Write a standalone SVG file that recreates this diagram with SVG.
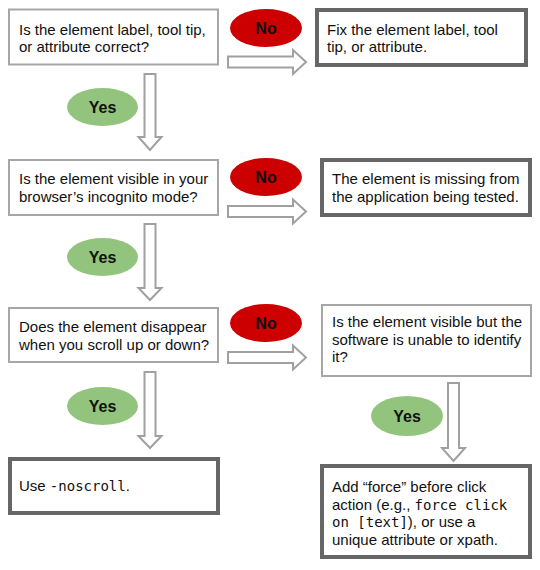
<svg xmlns="http://www.w3.org/2000/svg" width="540" height="570" viewBox="0 0 540 570">
<style>
.q{fill:#fff;stroke:#a6a6a6;stroke-width:2}
.a{fill:#fff;stroke:#666;stroke-width:4}
.t{font-family:"Liberation Sans",Arial,sans-serif;font-size:15px;fill:#111}
.m{font-family:"DejaVu Sans Mono",monospace;font-size:14px}
.arr{fill:#fff;stroke:#a0a0a0;stroke-width:2;stroke-linejoin:miter}
.no{fill:#cc0000}
.yes{fill:#93c47d}
.lb{font-family:"Liberation Sans",Arial,sans-serif;font-size:16px;font-weight:bold;fill:#111;text-anchor:middle}
</style>
<rect width="540" height="570" fill="#fff"/>
<g id="connectors">
<polygon class="arr" points="228,56.5 293,56.5 293,50 306,62 293,74 293,67.5 228,67.5"/>
<polygon class="arr" points="228,206 293,206 293,199.5 306,211.5 293,223.5 293,217 228,217"/>
<polygon class="arr" points="228,352 293,352 293,345.5 306,357.5 293,369.5 293,363 228,363"/>
<polygon class="arr" points="144.5,74 155.5,74 155.5,137 161.5,137 150,150 138.5,137 144.5,137"/>
<polygon class="arr" points="144.5,224 155.5,224 155.5,288 161.5,288 150,300 138.5,288 144.5,288"/>
<polygon class="arr" points="144.5,372 155.5,372 155.5,436 161.5,436 150,448 138.5,436 144.5,436"/>
<polygon class="arr" points="448,383 459,383 459,448 465,448 453.5,461 442,448 448,448"/>
</g>
<g id="label-no-1"><ellipse class="no" cx="266" cy="28" rx="36" ry="19"/><text class="lb" x="266" y="33.5">No</text></g>
<g id="label-no-2"><ellipse class="no" cx="266" cy="177" rx="36" ry="19"/><text class="lb" x="266" y="182.5">No</text></g>
<g id="label-no-3"><ellipse class="no" cx="266" cy="323" rx="36" ry="19"/><text class="lb" x="266" y="328.5">No</text></g>
<g id="label-yes-1"><ellipse class="yes" cx="102.5" cy="107" rx="35.5" ry="19"/><text class="lb" x="102.5" y="112.5">Yes</text></g>
<g id="label-yes-2"><ellipse class="yes" cx="102.5" cy="257" rx="35.5" ry="19"/><text class="lb" x="102.5" y="262.5">Yes</text></g>
<g id="label-yes-3"><ellipse class="yes" cx="102.5" cy="406" rx="35.5" ry="19"/><text class="lb" x="102.5" y="411.5">Yes</text></g>
<g id="label-yes-4"><ellipse class="yes" cx="407" cy="416" rx="36" ry="20"/><text class="lb" x="407" y="421.5">Yes</text></g>
<g id="q1"><rect class="q" x="9" y="9.5" width="209" height="55"/>
<text class="t" x="19" y="35">Is the element label, tool tip,</text>
<text class="t" x="19" y="52">or attribute correct?</text></g>
<g id="fix"><rect class="a" x="317" y="10" width="209" height="55"/>
<text class="t" x="327" y="35">Fix the element label, tool</text>
<text class="t" x="327" y="52">tip, or attribute.</text></g>
<g id="q2"><rect class="q" x="9" y="160" width="209" height="55"/>
<text class="t" x="19" y="184">Is the element visible in your</text>
<text class="t" x="19" y="201.5">browser’s incognito mode?</text></g>
<g id="missing"><rect class="a" x="322" y="160" width="208" height="55"/>
<text class="t" x="332" y="184">The element is missing from</text>
<text class="t" x="332" y="201.5">the application being tested.</text></g>
<g id="q3"><rect class="q" x="9" y="308" width="209" height="54"/>
<text class="t" x="19" y="332">Does the element disappear</text>
<text class="t" x="19" y="349.5">when you scroll up or down?</text></g>
<g id="q4"><rect class="q" x="322" y="305" width="209" height="71"/>
<text class="t" x="332" y="327">Is the element visible but the</text>
<text class="t" x="332" y="344.5">software is unable to identify</text>
<text class="t" x="332" y="362">it?</text></g>
<g id="noscroll"><rect class="a" x="10" y="459" width="208" height="54"/>
<text class="t" x="19" y="491">Use <tspan class="m">-noscroll</tspan>.</text></g>
<g id="force"><rect class="a" x="322" y="466" width="208" height="91"/>
<text class="t" x="332" y="492">Add “force” before click</text>
<text class="t" x="332" y="509.5">action (e.g., <tspan class="m">force click</tspan></text>
<text class="t" x="332" y="527"><tspan class="m">on [text]</tspan>), or use a</text>
<text class="t" x="332" y="544.5">unique attribute or xpath.</text></g>
</svg>
